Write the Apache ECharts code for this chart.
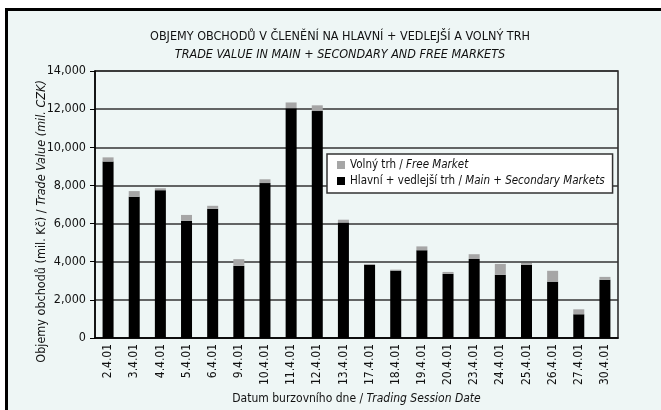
<!DOCTYPE html>
<html>
<head>
<meta charset="utf-8">
<script src="https://cdn.jsdelivr.net/npm/echarts@6/dist/echarts.min.js"></script>
<style>
  html, body { margin: 0; padding: 0; background: #fff; }
  #chart { width: 661px; height: 410px; }
</style>
</head>
<body>
<div id="chart"></div>
<script>
const dates = ['2.4.01', '3.4.01', '4.4.01', '5.4.01', '6.4.01', '9.4.01', '10.4.01', '11.4.01', '12.4.01', '13.4.01',
  '17.4.01', '18.4.01', '19.4.01', '20.4.01', '23.4.01', '24.4.01', '25.4.01', '26.4.01', '27.4.01', '30.4.01']
// Hlavní + vedlejší trh (mil. Kč)
const mainValues = [9250, 7400, 7750, 6150, 6780, 3780, 8120, 12050, 11900, 6050,
  3830, 3530, 4600, 3360, 4140, 3310, 3830, 2950, 1240, 3050]
// Volný trh (mil. Kč)
const freeValues = [220, 300, 100, 300, 150, 350, 200, 300, 300, 150,
  50, 50, 200, 100, 250, 570, 100, 570, 260, 150]

const font = "'Liberation Sans Narrow', 'DejaVu Sans Condensed', sans-serif"
const ink = '#111'

const richLabel = (size) => ({
  a: { fontFamily: font, fontSize: size, color: ink },
  b: { fontFamily: font, fontSize: size, color: ink, fontStyle: 'italic' }
})

const chart = echarts.init(document.getElementById('chart'))

chart.setOption({
  animation: false,
  textStyle: { fontFamily: font, color: ink },
  graphic: [{
    type: 'rect',
    z: -10,
    silent: true,
    shape: { x: 6.5, y: 9.5, width: 700, height: 450 },
    style: { fill: '#eef6f5', stroke: '#000', lineWidth: 3 }
  }],
  title: {
    left: 340,
    textAlign: 'center',
    top: 30,
    padding: 0,
    text: 'OBJEMY OBCHODŮ V ČLENĚNÍ NA HLAVNÍ + VEDLEJŠÍ A VOLNÝ TRH',
    subtext: 'TRADE VALUE IN MAIN + SECONDARY AND FREE MARKETS',
    itemGap: 5,
    textStyle: { fontFamily: font, fontSize: 12.5, fontWeight: 'normal', color: ink },
    subtextStyle: { fontFamily: font, fontSize: 12.5, fontStyle: 'italic', color: ink }
  },
  legend: {
    left: 327,
    top: 154,
    orient: 'vertical',
    data: ['free', 'main'],
    backgroundColor: '#fff',
    borderColor: '#333',
    borderWidth: 1.5,
    borderRadius: 0,
    padding: [5, 8, 6, 10],
    itemGap: 4,
    itemWidth: 8,
    itemHeight: 8,
    icon: 'rect',
    formatter: (name) => name === 'free'
      ? '{a|Volný trh / }{b|Free Market}'
      : '{a|Hlavní + vedlejší trh / }{b|Main + Secondary Markets}',
    textStyle: { rich: richLabel(11.5) }
  },
  grid: {
    left: 95,
    right: 43,
    top: 71,
    bottom: 68,
    show: true,
    borderColor: '#222',
    borderWidth: 1.5
  },
  xAxis: {
    type: 'category',
    data: dates,
    name: '{a|Datum burzovního dne / }{b|Trading Session Date}',
    nameLocation: 'middle',
    nameGap: 55,
    nameTextStyle: { rich: richLabel(12) },
    axisLine: { lineStyle: { color: '#000', width: 1.5 } },
    axisTick: { inside: true, length: 4, lineStyle: { color: '#000' } },
    axisLabel: { rotate: 90, margin: 6, fontSize: 12, color: ink, fontFamily: font }
  },
  yAxis: {
    type: 'value',
    min: 0,
    max: 14000,
    interval: 2000,
    name: '{a|Objemy obchodů (mil. Kč) / }{b|Trade Value (mil. CZK)}',
    nameLocation: 'middle',
    nameGap: 47,
    nameMoveOverlap: false,
    nameTextStyle: { rich: richLabel(12.5), padding: [0, 34, 0, 0] },
    axisLine: { show: true, lineStyle: { color: '#000', width: 1.5 } },
    axisTick: { show: true, length: 5, lineStyle: { color: '#000' } },
    axisLabel: {
      margin: 9,
      fontSize: 12.5,
      color: ink,
      fontFamily: font,
      formatter: (v) => v.toLocaleString('en-US')
    },
    splitLine: { lineStyle: { color: '#333', width: 1.5 } }
  },
  series: [
    {
      name: 'main',
      type: 'bar',
      stack: 'total',
      barWidth: 11,
      itemStyle: { color: '#000' },
      data: mainValues
    },
    {
      name: 'free',
      type: 'bar',
      stack: 'total',
      barWidth: 11,
      itemStyle: { color: '#a6a6a6' },
      data: freeValues
    }
  ]
})
</script>
</body>
</html>
